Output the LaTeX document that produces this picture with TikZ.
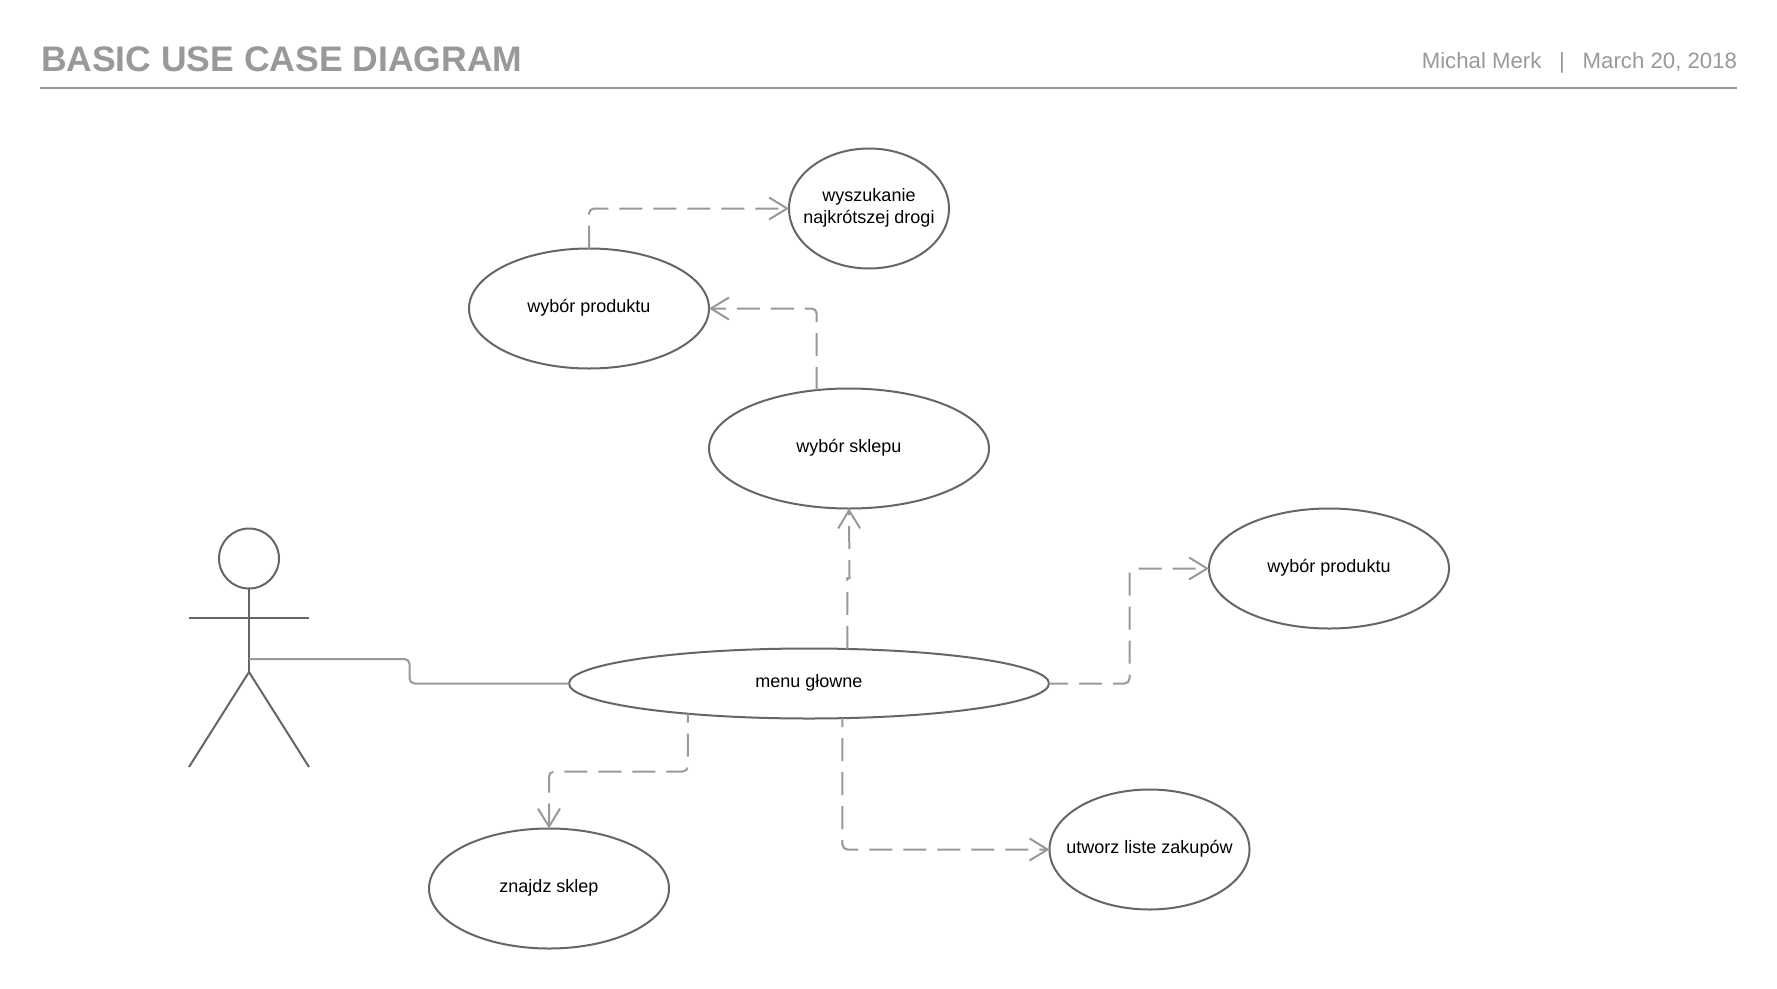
\documentclass[tikz,border=0pt]{standalone}
\usepackage{fontspec}
\setmainfont{Liberation Sans}
\usetikzlibrary{shapes.geometric,arrows.meta}
\definecolor{shape}{HTML}{666666}
\definecolor{conn}{HTML}{999999}
\newcommand{\uclabel}[1]{\raisebox{-3.8pt}[0pt][0pt]{\makebox[0pt]{#1}}}
\tikzset{
  usecase/.style={ellipse,draw=shape,line width=2pt,inner sep=0pt,outer sep=0pt,align=center,
    font=\fontsize{18}{21.6}\selectfont,text=black},
  dep/.style={draw=conn,line width=2pt,dash pattern=on 23pt off 11pt,rounded corners=5pt,
    -{Straight Barb[length=18pt,width=22pt,line width=2pt]}},
  assoc/.style={draw=conn,line width=2pt,rounded corners=5pt},
  stick/.style={draw=shape,line width=2pt},
  hdr/.style={inner sep=0pt,outer sep=0pt,text=conn}
}
\begin{document}
\begin{tikzpicture}[x=1pt,y=-1pt]
\useasboundingbox (0,0) rectangle (1777,988);
\fill[white] (0,0) rectangle (1777,988);
% header
\node[hdr,anchor=base west,font=\fontsize{35.5}{40}\selectfont\bfseries] (title) at (41,71.5) {BASIC USE CASE DIAGRAM};
\node[hdr,anchor=base east,font=\fontsize{22.2}{26}\selectfont] (meta) at (1737,68.5) {Michal Merk\hspace{0.8em}|\hspace{0.8em}March 20, 2018};
\coordinate (ruleL) at (40,88);
\coordinate (ruleR) at (1737,88);
\draw[draw=conn,line width=2pt] (ruleL) -- (ruleR);
% use cases
\node[usecase,minimum width=240pt,minimum height=120pt] (prod) at (589,308.5) {\uclabel{wybór produktu}};
\node[usecase,minimum width=160pt,minimum height=120pt] (wysz) at (869,208.5) {\uclabel{wyszukanie}\\\uclabel{najkrótszej drogi}};
\node[usecase,minimum width=280pt,minimum height=120pt] (sklep) at (849,448.5) {\uclabel{wybór sklepu}};
\node[usecase,minimum width=480pt,minimum height=70pt] (menu) at (809,683.5) {\uclabel{menu głowne}};
\node[usecase,minimum width=240pt,minimum height=120pt] (prodb) at (1329,568.5) {\uclabel{wybór produktu}};
\node[usecase,minimum width=240pt,minimum height=120pt] (znajdz) at (549,888.5) {\uclabel{znajdz sklep}};
\node[usecase,minimum width=200pt,minimum height=120pt] (utworz) at (1149.5,849.5) {\uclabel{utworz liste zakupów}};
% actor
\node[circle,draw=shape,line width=2pt,minimum size=60pt,inner sep=0pt,outer sep=0pt] (head) at (249,558.5) {};
\coordinate (hip) at (249,672);
\coordinate (armL) at (189,618);
\coordinate (armR) at (309,618);
\coordinate (footL) at (189,767);
\coordinate (footR) at (309,767);
\coordinate (waist) at (249,659);
\draw[stick] (head.south) -- (hip);
\draw[stick] (armL) -- (armR);
\draw[stick] (footL) -- (hip) -- (footR);
% helpers
\coordinate (jog) at (849.5,578);
\coordinate (vA) at (409.5,670);
\coordinate (vB) at (620,771.5);
\coordinate (vC) at (1129.5,626);
% connectors
\draw[assoc] (waist) -| (vA) |- (menu.west);
\draw[dep] (prod.north) |- (wysz.west);
\draw[dep] (sklep.119) |- (prod.east);
\draw[dep,sharp corners] (menu.42.3) -- (menu.42.3 |- jog) -- (jog) -- (sklep.south);
\draw[dep,dash phase=4pt] (menu.east) -| (vC) |- (prodb.west);
\draw[dep,dash phase=14pt] (menu.194.3) |- (vB) -| (znajdz.north);
\draw[dep,dash phase=14pt] (menu.314.5) |- (utworz.west);
\end{tikzpicture}
\end{document}
